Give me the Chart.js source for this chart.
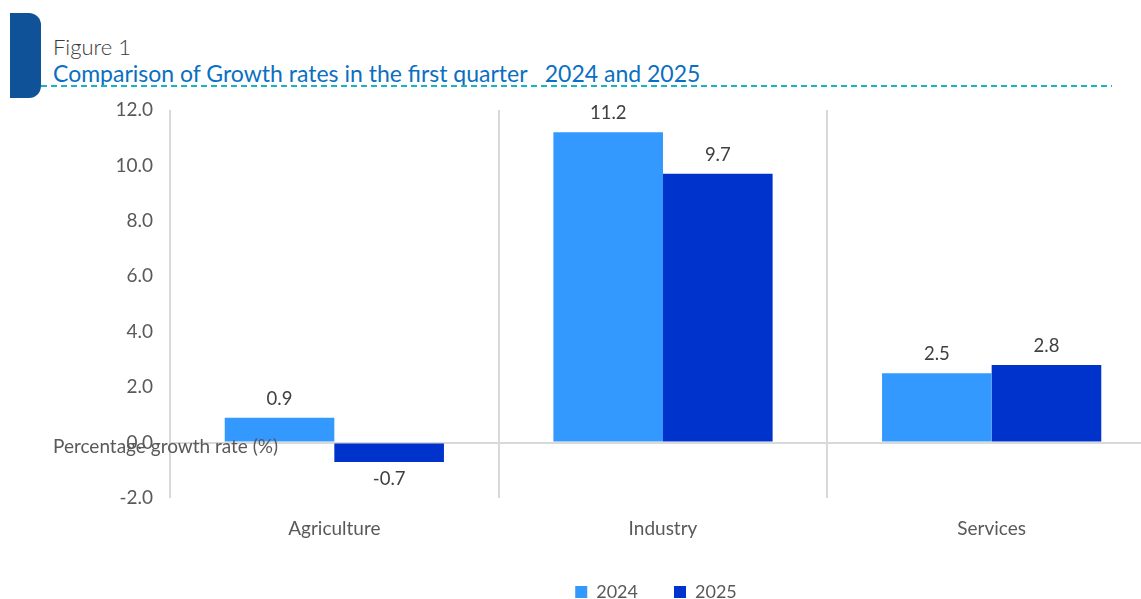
<!DOCTYPE html>
<html>
<head>
<meta charset="utf-8">
<script src="https://cdn.jsdelivr.net/npm/chart.js@4.4.1/dist/chart.umd.min.js"></script>
<style>
  html, body { margin: 0; padding: 0; background: #fff; overflow: hidden; }
  #wrap { position: relative; width: 1141px; height: 599px; overflow: hidden; }
  #tab { position: absolute; left: 10px; top: 13px; width: 31px; height: 85px; background: #0f5298; border-radius: 0 12px 12px 0; }
  #fig { position: absolute; left: 53px; top: 33px; font: 300 22px Lato, sans-serif; color: #3a3a3a; }
  #ttl { position: absolute; left: 53px; top: 59px; font: 400 23px Lato, sans-serif; color: #0a6fc2; }
  #rule { position: absolute; left: 41px; top: 85px; width: 1071px; height: 1.5px;
          background: repeating-linear-gradient(90deg, #19b3c4 0 6px, transparent 6px 10px); }
  canvas { position: absolute; left: 0; top: 0; }
</style>
</head>
<body>
<div id="wrap">
  <div id="tab"></div>
  <div id="fig">Figure 1</div>
  <div id="ttl">Comparison of Growth rates in the first quarter&nbsp;&nbsp; 2024 and 2025</div>
  <div id="rule"></div>
  <canvas id="growthChart" width="1156" height="611"></canvas>
</div>
<script>
const sectors = ['Agriculture', 'Industry', 'Services'];
const growth2024 = [0.9, 11.2, 2.5];
const growth2025 = [-0.7, 9.7, 2.8];
const seriesNames = ['2024', '2025'];
const yTicks = [-2, 0, 2, 4, 6, 8, 10, 12];

// value labels above / below each bar, plus the odd horizontal axis caption
const barLabels = {
  id: 'barLabels',
  afterLayout(chart) {
    // legend sits right of centre in the original
    chart.legend.left += 78;
    chart.legend.right += 78;
  },
  afterDatasetsDraw(chart) {
    const ctx = chart.ctx;
    ctx.save();
    ctx.font = '18.5px Lato, sans-serif';
    ctx.fillStyle = '#404040';
    ctx.textAlign = 'center';
    ctx.textBaseline = 'middle';
    chart.data.datasets.forEach((ds, i) => {
      chart.getDatasetMeta(i).data.forEach((bar, j) => {
        const v = ds.data[j];
        const y = v >= 0 ? bar.y - 19 : bar.y + 17;
        ctx.fillText(v.toFixed(1), bar.x, y);
      });
    });
    ctx.font = '19px Lato, sans-serif';
    ctx.fillStyle = '#595959';
    ctx.textAlign = 'left';
    ctx.fillText('Percentage growth rate (%)', 53, 447);
    ctx.restore();
  }
};

new Chart(document.getElementById('growthChart'), {
  type: 'bar',
  data: {
    labels: sectors,
    datasets: [
      { label: seriesNames[0], data: growth2024, backgroundColor: '#3399ff', barPercentage: 1, categoryPercentage: 0.667 },
      { label: seriesNames[1], data: growth2025, backgroundColor: '#0033cc', barPercentage: 1, categoryPercentage: 0.667 }
    ]
  },
  options: {
    responsive: false,
    animation: false,
    layout: { padding: { top: 110, left: 0, right: 0, bottom: 0 } },
    plugins: {
      legend: {
        position: 'bottom',
        labels: { boxWidth: 12, boxHeight: 12, font: { family: 'Lato', size: 18 }, color: '#595959', padding: 36 }
      },
      tooltip: { enabled: false }
    },
    scales: {
      y: {
        min: -2,
        max: 12,
        afterBuildTicks: (scale) => { scale.ticks = yTicks.map(v => ({ value: v })); },
        afterFit: (scale) => { scale.width = 170; },
        border: { display: false },
        grid: {
          drawTicks: false,
          color: (c) => c.tick && c.tick.value === 0 ? '#d9d9d9' : 'transparent',
          lineWidth: 2
        },
        ticks: {
          padding: 17,
          color: '#595959',
          font: { family: 'Lato', size: 19 },
          callback: (v) => Number(v).toFixed(1)
        }
      },
      x: {
        afterFit: (scale) => { scale.height = 49; },
        border: { display: false },
        grid: { drawTicks: false, color: '#d9d9d9', lineWidth: 2, offset: true },
        ticks: { padding: 19, color: '#595959', font: { family: 'Lato', size: 19 } }
      }
    }
  },
  plugins: [barLabels]
});
</script>
</body>
</html>
